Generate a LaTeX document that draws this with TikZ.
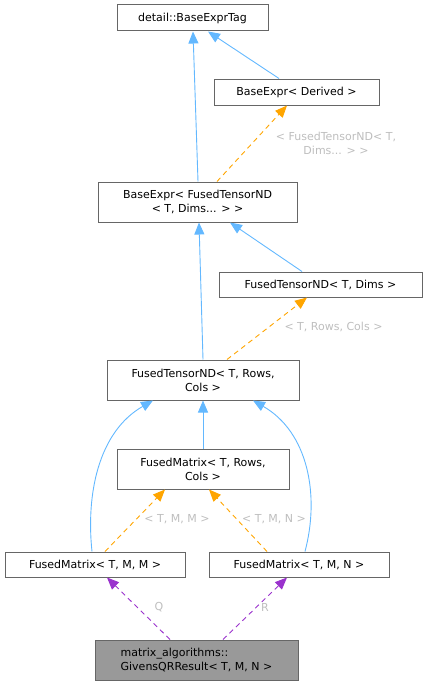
\documentclass[tikz,border=0pt]{standalone}
\usepackage{fontspec}
\setmainfont{DejaVu Sans}
\usetikzlibrary{arrows.meta,positioning,calc}
\definecolor{DOX-BLUE}{RGB}{99, 184, 255}
\definecolor{DOX-ORANGE}{RGB}{255, 165, 0}
\definecolor{DOX-PURPLE}{RGB}{154, 50, 205}
\definecolor{DOX-BORDER}{RGB}{102, 102, 102}
\definecolor{DOX-LABEL}{RGB}{190, 190, 190}
\definecolor{DOX-MAIN}{RGB}{153, 153, 153}

\begin{document}
\begin{tikzpicture}[x=1pt, y=-1pt,
    font=\fontsize{11}{14}\selectfont,
    classbox/.style={draw=DOX-BORDER, line width=1pt, fill=white, inner sep=0pt, align=center},
    mainbox/.style={classbox, fill=DOX-MAIN, align=left},
    inherit/.style={-{Triangle[length=12pt, width=10pt]}, DOX-BLUE, line width=0.9pt},
    templ/.style={-{Triangle[length=12pt, width=10pt]}, DOX-ORANGE, line width=0.9pt, dash pattern=on 5pt off 4pt},
    member/.style={-{Triangle[length=12pt, width=10pt]}, DOX-PURPLE, line width=0.9pt, dash pattern=on 5pt off 4pt},
    edgelabel/.style={text=DOX-LABEL, align=center, inner sep=0pt}]
  \useasboundingbox (0,0) rectangle (427,685);

  % Class boxes
  \node[classbox, minimum width=151, minimum height=26] (tag) at (192.5,18) {detail::BaseExprTag};
  \node[classbox, minimum width=165, minimum height=26] (exprder) at (296.5,92) {BaseExpr< Derived >};
  \node[classbox, minimum width=199, minimum height=40] (exprfused) at (197.5,202) {BaseExpr< FusedTensorND\\< T, Dims... > >};
  \node[classbox, minimum width=203, minimum height=25] (tensordims) at (320.5,284.5) {FusedTensorND< T, Dims >};
  \node[classbox, minimum width=192, minimum height=40] (tensorrc) at (203,380) {FusedTensorND< T, Rows,\\Cols >};
  \node[classbox, minimum width=172, minimum height=40] (matrc) at (203,469) {FusedMatrix< T, Rows,\\Cols >};
  \node[classbox, minimum width=180, minimum height=25] (matmm) at (95,564.5) {FusedMatrix< T, M, M >};
  \node[classbox, minimum width=180, minimum height=25] (matmn) at (299,564.5) {FusedMatrix< T, M, N >};
  \node[mainbox, minimum width=203, minimum height=40] (givens) at (196.5,660) {matrix\_algorithms::\\GivensQRResult< T, M, N >};

  % Inheritance
  \draw[inherit] ([xshift=0.5]exprfused.north) -- ([xshift=0.5]tag.south);
  \draw[inherit] ([xshift=-17.5]exprder.north) -- ([xshift=15.5]tag.south);
  \draw[inherit] (tensorrc.north) -- ([xshift=1.5]exprfused.south);
  \draw[inherit] ([xshift=-18.5]tensordims.north) -- ([xshift=32.5]exprfused.south);
  \draw[inherit] (matrc.north) -- (tensorrc.south);
  \draw[inherit] ([xshift=-3]matmm.north) .. controls (86,495) and (98,432) .. ([xshift=-50]tensorrc.south);
  \draw[inherit] ([xshift=6]matmn.north) .. controls (320,495) and (308,432) .. ([xshift=50]tensorrc.south);

  % Template instances
  \draw[templ] ([xshift=19.5]exprfused.north) -- ([xshift=-9.5]exprder.south);
  \node[edgelabel] (lblfused) at (336,143) {< FusedTensorND< T,\\Dims... > >};
  \draw[templ] ([xshift=24]tensorrc.north) -- ([xshift=-13.5]tensordims.south);
  \node[edgelabel] (lblrc) at (333.5,327) {< T, Rows, Cols >};
  \draw[templ] ([xshift=10]matmm.north) -- ([xshift=-38]matrc.south);
  \node[edgelabel] (lblmm) at (177,519) {< T, M, M >};
  \draw[templ] ([xshift=-32]matmn.north) -- ([xshift=6]matrc.south);
  \node[edgelabel] (lblmn) at (274,519) {< T, M, N >};

  % Members
  \draw[member] ([xshift=-26.5]givens.north) -- ([xshift=12]matmm.south);
  \node[edgelabel] (lblq) at (159,607) {Q};
  \draw[member] ([xshift=26.5]givens.north) -- ([xshift=-12]matmn.south);
  \node[edgelabel] (lblr) at (265,607) {R};
\end{tikzpicture}
\end{document}
